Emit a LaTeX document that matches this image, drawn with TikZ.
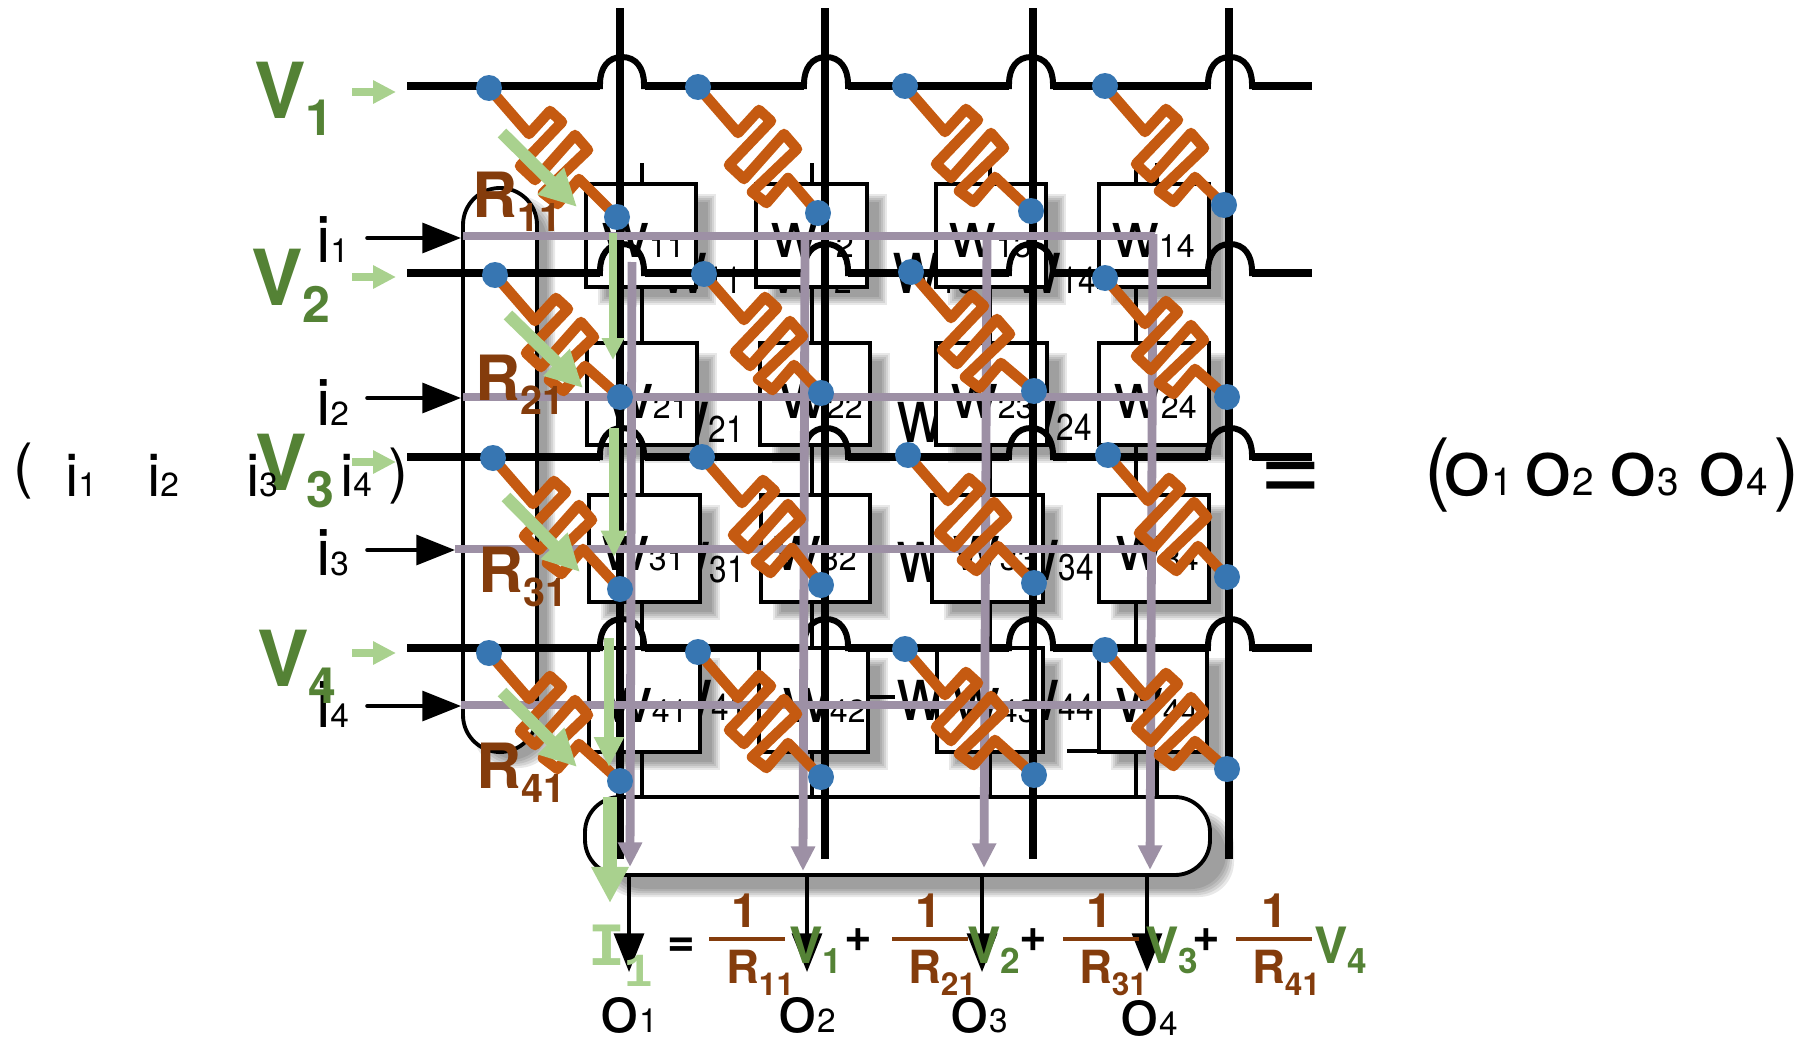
\documentclass[tikz,border=0pt]{standalone}
\usepackage{graphicx}
\usepackage{fontspec}
\setmainfont{TeX Gyre Heros}
\newfontfamily\slabfont{Liberation Mono}
\usetikzlibrary{arrows.meta,calc}
\definecolor{inkgreen}{RGB}{84,130,53}
\definecolor{flowgreen}{RGB}{169,209,142}
\definecolor{rescol}{RGB}{197,90,17}
\definecolor{rbrown}{RGB}{132,60,12}
\definecolor{dotcol}{RGB}{55,118,178}
\definecolor{linecol}{RGB}{157,144,165}
\newcommand{\fsz}[1]{\fontsize{#1}{#1}\selectfont}
\newcommand{\lbl}[5]{\fsz{#1}#2\lower#5pt\hbox{\fsz{#3}#4}}
\newcommand{\softshadow}[6]{\foreach \k in {-4,-2,0,2,4}
  {\fill[black,opacity=.09,rounded corners=#5] (#1+#6+\k,#2+#6-2+\k) rectangle (#3+#6-\k,#4+#6-2-\k);}}

\begin{document}
\begin{tikzpicture}[x=0.02cm,y=-0.02cm,
   lab/.style={anchor=base west,inner sep=0pt,outer sep=0pt},
   cell/.style={draw=black,fill=white,line width=1.8pt},
   pill/.style={draw=black,fill=white,line width=2.2pt},
   thin wire/.style={black,line width=2pt},
   bar/.style={black,line width=4.6pt},
   wire/.style={black,line width=4.4pt},
   hump/.style={black,line width=3.4pt},
   res/.style={rescol,line width=6pt,line join=round},
   dot/.style={circle,fill=dotcol,inner sep=0pt,minimum size=0.52cm},
   inarrow/.style={black,line width=2pt,line cap=round,-{Triangle[width=17pt,length=22pt]}},
   readline/.style={linecol,line width=5pt},
   readarrow/.style={linecol,line width=5pt,-{Triangle[width=13pt,length=14pt]}},
   volt/.style={flowgreen,line width=4.5pt,-{Triangle[width=12.5pt,length=13pt]}},
   flow/.style={flowgreen,line width=7pt,-{Triangle[width=20pt,length=21pt]}}]
  \useasboundingbox (0,0) rectangle (1810,1038);
  % ---------- thin lines and the text behind the cells ----------
  \foreach \x/\n in {642/a,812/b,990/c,1136/d}{
    \draw[thin wire] (\x,163) -- (\x,797);}
  \draw[thin wire] (1157,163) -- (1157,184);
  \draw[thin wire] (1157,752) -- (1157,797);
  \draw[thin wire] (868,697) -- (895,697);
  \draw[thin wire] (1067,751) -- (1100,751);
  \foreach \n/\x/\y in {11/660/293,12/770/293,13/893/293,14/1014/293,
      21/662/442,23/897/442,24/1010/440,
      31/663/582,33/897/582,34/1012/580,
      41/665/720,43/897/720,44/1012/720}{
    \node[lab] (back\n) at (\x,\y) {\scalebox{1}[1.18]{\lbl{37}{w}{18}{\n}{0}}};}
  % ---------- shadows, pills and cells ----------
  \softshadow{463}{188}{537}{752}{21pt}{14}
  \softshadow{585}{797}{1210}{875}{20pt}{20}
  \foreach \a/\b/\c/\d in {586/184/696/287,756/184/867/287,936/184/1046/287,1099/184/1209/287,
      587/343/697/445,760/343/870/445,936/343/1047/445,1099/343/1209/445,
      589/495/700/602,761/495/870/602,932/495/1043/602,1099/495/1209/602,
      589/648/700/752,759/648/868/752,937/648/1043/752,1099/648/1207/752}{
    \softshadow{\a}{\b}{\c}{\d}{0pt}{16}}
  \draw[pill,rounded corners=21pt] (463,188) rectangle (537,752);
  \draw[pill,rounded corners=20pt] (585,797) rectangle (1210,875);
  \foreach \a/\b/\c/\d in {586/184/696/287,756/184/867/287,936/184/1046/287,1099/184/1209/287,
      587/343/697/445,760/343/870/445,936/343/1047/445,1099/343/1209/445,
      589/495/700/602,761/495/870/602,932/495/1043/602,1099/495/1209/602,
      589/648/700/752,759/648/868/752,937/648/1043/752,1099/648/1207/752}{
    \draw[cell] (\a,\b) rectangle (\c,\d);}
  \foreach \n/\x/\y in {11/602/257,12/771/257,13/949/257,14/1112/257,
      21/606/418,22/780/418,23/951/418,24/1114/418,
      31/602/570,32/774/570,33/953/570,34/1116/570,
      41/605/722,42/783/722,43/953/722,44/1116/722}{
    \node[lab] (w\n) at (\x,\y) {\lbl{37}{w}{18.3}{\n}{0}};}
  % ---------- crossbar ----------
  \foreach \x in {620,825,1033,1229}{\draw[bar] (\x,8) -- (\x,859);}
  \foreach \y in {86,273,457,648}{
    \draw[wire] (407,\y) -- (600,\y) (645,\y) -- (804,\y) (848,\y) -- (1009,\y)
      (1053,\y) -- (1208,\y) (1252,\y) -- (1312,\y);
    \foreach \c in {622,826,1031,1230}{
      \draw[hump] (\c-22,\y+3) -- (\c-22,\y-2) .. controls (\c-22,\y-18) and (\c-14,\y-29) .. (\c,\y-29)
        .. controls (\c+14,\y-29) and (\c+22,\y-18) .. (\c+22,\y-2) -- (\c+22,\y+3);}}
  % read lines
  \draw[readline] (463,236) -- (1155,236);
  \draw[readline] (463,397) -- (1155,397);
  \draw[readline] (455,549) -- (1154,549);
  \draw[readline] (461,705) -- (1150,705);
  \coordinate (r1s) at (632,262); \coordinate (r1e) at (630,867);
  \coordinate (r2s) at (805,236); \coordinate (r2e) at (803,871);
  \coordinate (r3s) at (987,236); \coordinate (r3e) at (984,868);
  \coordinate (r4s) at (1153,234); \coordinate (r4e) at (1150,870);
  \foreach \c in {1,2,3,4}{\draw[readarrow] (r\c s) -- (r\c e);}
  % ---------- resistors and their end dots ----------
  \foreach \n/\x/\y/\u/\v in {11/489/88/617/217,12/698/87/818/213,13/905/86/1031/211,14/1105/86/1224/205,
      21/495/275/620/397,22/704/274/821/393,23/911/272/1034/391,24/1105/278/1227/397,
      31/493/458/620/589,32/702/457/821/585,33/908/455/1034/583,34/1108/455/1227/577,
      41/489/653/620/781,42/698/652/821/777,43/905/649/1034/775,44/1105/650/1227/769}{
    \coordinate (t\n) at (\x,\y);
    \coordinate (b\n) at (\u,\v);
    \draw[res] (t\n) -- ++(40,46) -- ++(21,-23) -- ++(12,11) -- ++(-42,44) -- ++(15,14)
      -- ++(40,-45) -- ++(13,15) -- ++(-45,43) -- ++(14.5,11) -- ++(21.5,-25) -- (b\n);
    \node[dot] (dt\n) at (t\n) {};
    \node[dot] (db\n) at (b\n) {};}
  % ---------- green current arrows ----------
  \draw[flow] (502,133) -- (577,207);
  \draw[flow] (508,315) -- (583,388);
  \draw[flow] (506,497) -- (580,572);
  \draw[flow] (502,692) -- (577,767);
  \draw[flowgreen,line width=4.5pt,-{Triangle[width=12pt,length=12.5pt]}] (613,233) -- (613,360);
  \draw[flowgreen,line width=5.6pt,-{Triangle[width=14pt,length=15pt]}] (614,428) -- (614,557);
  \draw[flowgreen,line width=6pt,-{Triangle[width=16pt,length=17pt]}] (609,638) -- (609,767);
  \draw[flowgreen,line width=8pt,-{Triangle[width=20pt,length=20.5pt]}] (610,797) -- (610,903);
  \foreach \n/\y in {1/92,2/277,3/462,4/653}{\draw[volt] (352,\y) -- (396,\y);}
  % ---------- inputs ----------
  \foreach \n/\y/\e/\b in {1/238/461/262,2/398/461/425,3/550/455/575,4/706/461/727}{
    \coordinate (in\n) at (367,\y);
    \coordinate (ie\n) at (\e,\y);
    \draw[inarrow] (in\n) -- (ie\n);
    \node[lab] (i\n) at (316,\b) {\lbl{37}{i}{19}{\n}{0}};}
  % ---------- outputs and equation ----------
  \foreach \n/\x/\u/\b in {1/629/600/1032,2/807/778/1032,3/982/950/1032,4/1147/1120/1035}{
    \coordinate (ot\n) at (\x,875);
    \coordinate (oe\n) at (\x,972);
    \draw[inarrow] (ot\n) -- (oe\n);
    \node[lab] (o\n) at (\u,\b) {\scalebox{1.08}[1]{\fsz{37}o}\fsz{19}\n};}
  \node[lab,text=flowgreen] (ieq) at (588,965) {\lbl{35}{\slabfont\bfseries I}{27}{1}{12}};
  \node[lab] (eqs) at (667,956) {\bfseries\fsz{27}=};
  \foreach \n/\x/\m/\r/\rb/\v/\p in {11/709/745/726/1/789/844,21/892/929/908/2/967/1019,
      31/1063/1100/1079/3/1145/1192,41/1236/1275/1252/4/1314/0}{
    \coordinate (fa\n) at (\x,939);
    \coordinate (fb\n) at (\x+76,939);
    \draw[rbrown,line width=2pt] (fa\n) -- (fb\n);
    \node[lab,text=rbrown,anchor=base] (one\n) at (\m,927) {\bfseries\fsz{27}1};
    \node[lab,text=rbrown] (re\n) at (\r,983) {\bfseries\lbl{26}{R}{18}{\n}{7}};
    \node[lab,text=inkgreen] (ve\rb) at (\v,963) {\bfseries\lbl{28.5}{V}{20}{\rb}{6}};}
  \foreach \n/\x in {1/844,2/1019,3/1192}{
    \node[lab] (plus\n) at (\x,951) {\bfseries\fsz{27}+};}
  % ---------- big labels ----------
  \foreach \n/\x/\y in {1/254/118,2/251/305,3/255/490,4/257/686}{
    \node[lab,text=inkgreen] (v\n) at (\x,\y) {\bfseries\lbl{44}{V}{28.5}{\n}{10}};}
  \foreach \n/\x/\y in {11/472/217,21/475/400,31/478/592,41/476/788}{
    \node[lab,text=rbrown] (r\n) at (\x,\y) {\bfseries\lbl{35.5}{R}{22.5}{\n}{8}};}
  % ---------- vectors ----------
  \node[lab] (lpar) at (13,486) {\fsz{34}(};
  \node[lab] (rpar) at (388,491) {\fsz{34})};
  \foreach \n/\x in {1/65,2/147,3/246,4/340}{
    \node[lab] (vi\n) at (\x,496) {\lbl{34}{i}{19}{\n}{0}};}
  \node[lab] (eqb) at (1259,502) {\fsz{61}=};
  \node[lab] (olpar) at (1424,495) {\fsz{45}(};
  \node[lab] (orpar) at (1773,495) {\fsz{45})};
  \foreach \n/\x in {1/1443,2/1524,3/1609,4/1698}{
    \node[lab] (vo\n) at (\x,495) {\scalebox{1.1}[1]{\fsz{45}o}\fsz{22}\n};}
\end{tikzpicture}
\end{document}
